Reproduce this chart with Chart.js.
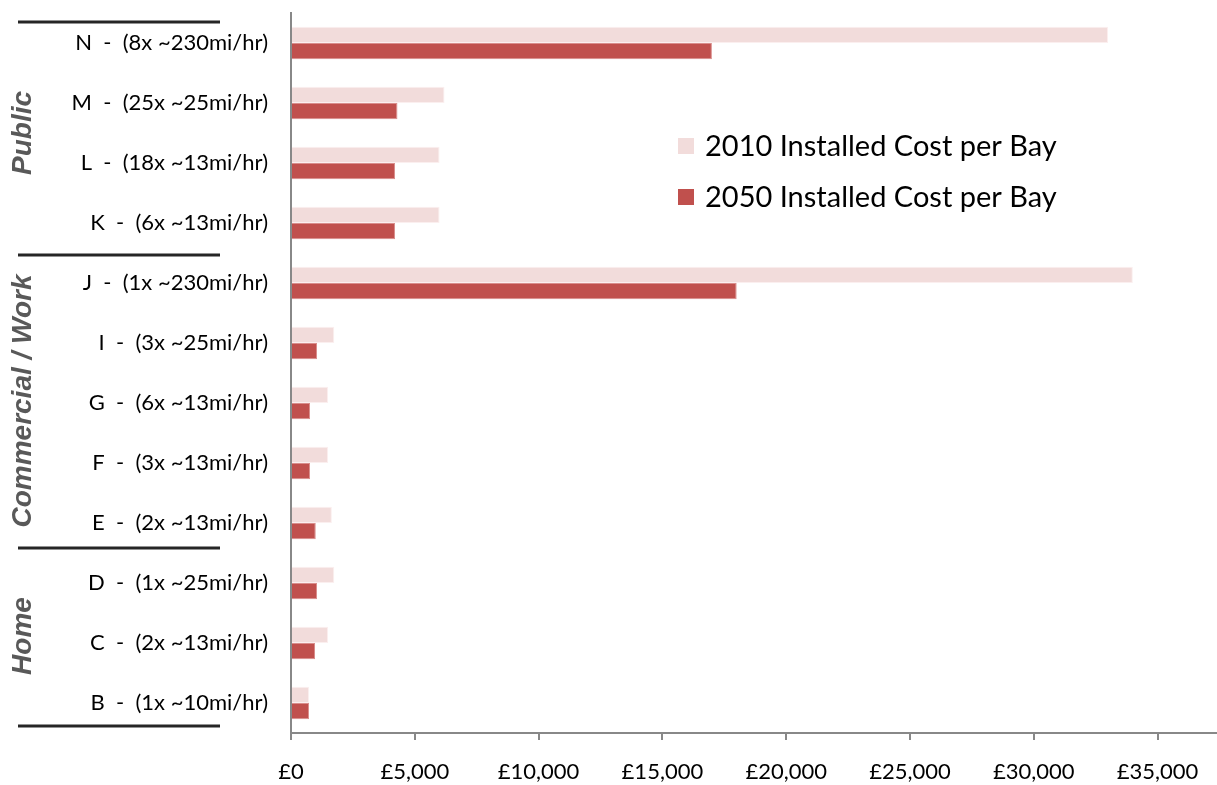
<!DOCTYPE html>
<html>
<head>
<meta charset="utf-8">
<script src="https://cdn.jsdelivr.net/npm/chart.js@4.4.1/dist/chart.umd.min.js"></script>
<style>
  html, body { margin: 0; padding: 0; background: #fff; }
  #wrap { width: 1217px; height: 785px; position: relative; }
</style>
</head>
<body>
<div id="wrap"><canvas id="bays"></canvas></div>
<script>
// charger options, top to bottom
const categories = [
  'N  -  (8x ~230mi/hr)',
  'M  -  (25x ~25mi/hr)',
  'L  -  (18x ~13mi/hr)',
  'K  -  (6x ~13mi/hr)',
  'J  -  (1x ~230mi/hr)',
  'I  -  (3x ~25mi/hr)',
  'G  -  (6x ~13mi/hr)',
  'F  -  (3x ~13mi/hr)',
  'E  -  (2x ~13mi/hr)',
  'D  -  (1x ~25mi/hr)',
  'C  -  (2x ~13mi/hr)',
  'B  -  (1x ~10mi/hr)'
];
const cost2010 = [33000, 6200, 6000, 6000, 34000, 1750, 1500, 1500, 1650, 1750, 1500, 730];
const cost2050 = [17000, 4300, 4200, 4200, 18000, 1050, 770, 770, 1000, 1050, 970, 730];
const seriesNames = ['2010 Installed Cost per Bay', '2050 Installed Cost per Bay'];
const xTicks = [0, 5000, 10000, 15000, 20000, 25000, 30000, 35000];

// groups of rows shown on the left
const groupNames = ['Public', 'Commercial / Work', 'Home'];
const groupSizes = [4, 5, 3];

const LABEL_FONT = 'Lato, "Open Sans", sans-serif';

const groupPlugin = {
  id: 'groups',
  afterDraw(chart) {
    const ctx = chart.ctx;
    const y = chart.scales.y;
    const half = (y.getPixelForValue(1) - y.getPixelForValue(0)) / 2;
    const lineNudge = [9, 2, -5, -7];
    const labelNudge = [0, -2, -7];
    let start = 0;
    ctx.save();
    const edges = [y.getPixelForValue(0) - half];
    groupSizes.forEach((n, gi) => {
      const last = start + n - 1;
      edges.push(y.getPixelForValue(last) + half);
      const mid = (y.getPixelForValue(start) + y.getPixelForValue(last)) / 2;
      ctx.save();
      ctx.translate(23, mid + labelNudge[gi]);
      ctx.rotate(-Math.PI / 2);
      ctx.fillStyle = '#595959';
      ctx.font = 'italic bold 28px "Liberation Sans", Arial, sans-serif';
      ctx.textAlign = 'center';
      ctx.textBaseline = 'middle';
      ctx.fillText(groupNames[gi], 0, 0);
      ctx.restore();
      start += n;
    });
    // separator lines
    ctx.strokeStyle = '#262626';
    ctx.lineWidth = 3;
    edges.forEach((e, i) => {
      ctx.beginPath();
      ctx.moveTo(18, e + lineNudge[i]);
      ctx.lineTo(220, e + lineNudge[i]);
      ctx.stroke();
    });

    // legend inside the plot
    ctx.font = '29px ' + LABEL_FONT;
    ctx.textBaseline = 'middle';
    ctx.textAlign = 'left';
    chart.data.datasets.forEach((ds, i) => {
      const cy = 146 + i * 51;
      ctx.fillStyle = ds.backgroundColor;
      ctx.fillRect(678, cy - 8, 16, 16);
      ctx.fillStyle = '#000';
      ctx.fillText(ds.label, 705, cy + 1);
    });
    ctx.restore();
  }
};

new Chart(document.getElementById('bays'), {
  type: 'bar',
  data: {
    labels: categories,
    datasets: [
      { label: seriesNames[0], data: cost2010, backgroundColor: '#F2DCDB', borderColor: '#FBEFEF', borderWidth: 1, borderSkipped: 'start' },
      { label: seriesNames[1], data: cost2050, backgroundColor: '#C0504D', borderColor: '#D98D8B', borderWidth: 1, borderSkipped: 'start' }
    ]
  },
  options: {
    indexAxis: 'y',
    responsive: true,
    maintainAspectRatio: false,
    animation: false,
    layout: { padding: { top: 13, right: 0, left: 0, bottom: 0 } },
    datasets: { bar: { categoryPercentage: 0.54, barPercentage: 1.0 } },
    plugins: {
      legend: { display: false },
      title: { display: false },
      tooltip: { enabled: false }
    },
    scales: {
      x: {
        min: 0,
        max: 37400,
        afterBuildTicks: (scale) => {
          scale.ticks = xTicks.map(v => ({ value: v }));
        },
        afterFit: (scale) => {
          scale.height = 52;
          scale.paddingLeft = 0;
          scale.paddingRight = 0;
        },
        ticks: {
          autoSkip: false,
          color: '#000',
          font: { family: LABEL_FONT, size: 22 },
          padding: 19,
          maxRotation: 0,
          callback: (v) => '£' + Number(v).toLocaleString('en-GB')
        },
        grid: { display: true, drawOnChartArea: false, drawTicks: true, tickLength: 7, color: '#888', lineWidth: 2 },
        border: { display: true, color: '#888', width: 2 }
      },
      y: {
        afterFit: (scale) => {
          scale.width = 291;
          scale.paddingTop = 0;
          scale.paddingBottom = 0;
        },
        ticks: {
          color: '#000',
          font: { family: LABEL_FONT, size: 22 },
          padding: 15
        },
        grid: { display: false },
        border: { display: true, color: '#888', width: 2 }
      }
    }
  },
  plugins: [groupPlugin]
});
</script>
</body>
</html>
